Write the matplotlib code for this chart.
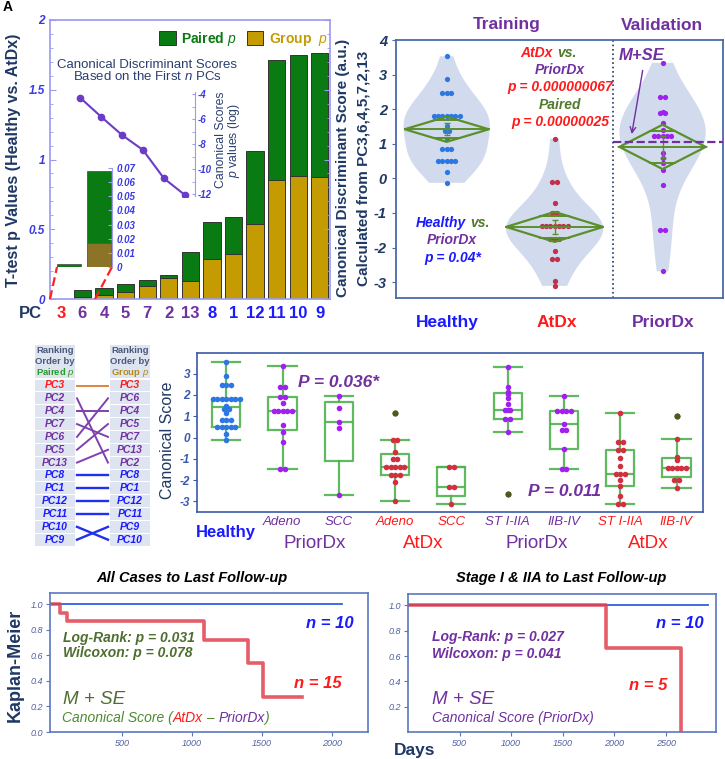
import numpy as np
import matplotlib
matplotlib.use("Agg")
import matplotlib.pyplot as plt
from matplotlib.lines import Line2D
from matplotlib.patches import Rectangle, Polygon
from matplotlib.ticker import MultipleLocator

plt.rcParams["font.family"] = ["Liberation Sans", "DejaVu Sans"]
plt.rcParams["mathtext.fontset"] = "custom"
plt.rcParams["mathtext.it"] = "Liberation Sans:italic"
plt.rcParams["mathtext.rm"] = "Liberation Sans"
plt.rcParams["mathtext.bf"] = "Liberation Sans:bold"
plt.rcParams["axes.unicode_minus"] = False

# ---- panel A : t-test p values per PC (group p + paired p stacked)
pc_labels = ["3", "6", "4", "5", "7", "2", "13", "8", "1", "12", "11", "10", "9"]
group_p = [0.0003, 0.017, 0.03, 0.048, 0.09, 0.15, 0.127, 0.29, 0.32, 0.54, 0.85, 0.88, 0.875]
paired_p = [0.0021, 0.051, 0.047, 0.062, 0.049, 0.02, 0.208, 0.26, 0.27, 0.52, 0.86, 0.87, 0.885]
n_pcs = [2, 3, 4, 5, 6, 7]
log_p_scores = [-4.29, -5.81, -7.28, -8.48, -10.75, -12.08]

# ---- canonical scores
healthy = [3.53, 2.87, 2.48, 2.48, 2.48, 1.81, 1.81, 1.81, 1.81, 1.81, 1.81, 1.81,
           1.5, 1.36, 1.36, 1.15, 0.84, 0.84, 0.84, 0.49, 0.49, 0.49, 0.49, 0.49, 0.18, -0.13]
priordx_adeno = [3.34, 2.35, 2.35, 1.9, 1.9, 1.6, 1.23, 1.23, 1.23, 1.23, 1.23, 0.6, 0.25, -0.2, -1.48, -1.48]
priordx_scc = [1.93, 1.4, 0.72, 0.45, -2.69]
atdx_adeno = [1.15, -0.1, -0.1, -0.7, -1.0, -1.0, -1.38, -1.38, -1.38, -1.38, -1.38,
              -1.74, -1.74, -1.74, -2.1, -2.97]
atdx_scc = [-1.38, -1.38, -2.34, -2.34, -3.11]
priordx_early = [3.3, 2.36, 2.12, 2.06, 1.86, 1.58, 1.31, 1.27, 1.27, 0.87, 0.87, 0.26, -2.64]
priordx_late = [1.93, 1.23, 1.23, 1.23, 1.23, 0.65, 0.37, 0.37, -0.52, -1.46, -1.46]
atdx_early = [1.15, -0.23, -0.23, -0.57, -0.57, -0.96, -1.36, -1.7, -1.7, -1.7, -2.01, -2.27, -2.77, -3.11, -3.11]
atdx_late = [1.03, -0.07, -0.93, -1.04, -1.43, -1.43, -1.43, -1.43, -1.43, -2.01, -2.01, -2.37]
m_se_line = 1.05

rank_paired = ["PC3", "PC2", "PC4", "PC7", "PC6", "PC5", "PC13", "PC8", "PC1", "PC12", "PC11", "PC10", "PC9"]
rank_group = ["PC3", "PC6", "PC4", "PC5", "PC7", "PC13", "PC2", "PC8", "PC1", "PC12", "PC11", "PC9", "PC10"]

# ---- Kaplan-Meier
km_all_t = [0, 60, 107, 1085, 1400, 1505, 1785]
km_all_s = [1.0, 0.933, 0.867, 0.722, 0.542, 0.271, 0.271]
km_all_ref_t = [0, 2070]
km_stage_t = [0, 1918, 2643]
km_stage_s = [1.0, 0.667, 0.0]
km_stage_ref_t = [0, 2905]

NAVY = "#1f3864"
BLUE = "#1a1aff"
RED = "#ff1a1a"
PURPLE = "#7030a0"
OLIVE = "#4e7a2a"
GREEN = "#0a7a12"
GOLD = "#c49b00"
SPINE_A = "#9a9af0"
VIOLIN = "#d2dbee"
DIAMOND = "#5b8f2a"
BOXGREEN = "#4fb34f"
PC_COL = {"3": RED, "6": PURPLE, "4": PURPLE, "5": PURPLE, "7": PURPLE, "2": PURPLE, "13": PURPLE}

W, H = 725, 759
fig = plt.figure(figsize=(7.25, 7.59), dpi=100)


def rect(l, t, r, b):
    return [l / W, 1 - b / H, (r - l) / W, (b - t) / H]


def txt(x, y, s, **kw):
    kw.setdefault("ha", "center")
    kw.setdefault("va", "center")
    return fig.text(x / W, 1 - y / H, s, **kw)


def multicolor(x, y, pieces, **kw):
    renderer = fig.canvas.get_renderer()
    for s, c in pieces:
        t = txt(x, y, s, color=c, ha="left", **kw)
        x += t.get_window_extent(renderer).width


def swarm(vals, center, step):
    vals = np.asarray(vals, float)
    xs = np.zeros(len(vals))
    keys = np.round(vals, 2)
    for k in np.unique(keys):
        idx = np.where(keys == k)[0]
        xs[idx] = center + (np.arange(len(idx)) - (len(idx) - 1) / 2) * step
    return xs


def diamond(ax, pos, vals, w):
    v = np.asarray(vals, float)
    m = v.mean()
    se = v.std(ddof=1) / np.sqrt(len(v))
    ci = 2.06 * se
    ax.add_patch(Polygon([[pos - w, m], [pos, m + ci], [pos + w, m], [pos, m - ci]],
                         closed=True, fill=False, ec=DIAMOND, lw=1.6, zorder=4))
    ax.plot([pos - w, pos + w], [m, m], color=DIAMOND, lw=1.4, zorder=4)
    h = ci / np.sqrt(2)
    ww = w * (1 - 1 / np.sqrt(2))
    for yy in (m - h, m + h):
        ax.plot([pos - ww, pos + ww], [yy, yy], color=DIAMOND, lw=1.4, zorder=4)
    ax.errorbar(pos, m, yerr=se, color=DIAMOND, capsize=2, lw=1, zorder=4)


def box_stats(vals):
    v = np.sort(np.asarray(vals, float))
    q1, med, q3 = np.percentile(v, [25, 50, 75], method="weibull")
    iqr = q3 - q1
    lo = v[v >= q1 - 1.5 * iqr].min()
    hi = v[v <= q3 + 1.5 * iqr].max()
    return dict(med=med, q1=q1, q3=q3, whislo=lo, whishi=hi, fliers=v[(v < lo) | (v > hi)])


def style_ticks(ax, axis, color, size, weight="bold", style="italic"):
    labels = ax.get_yticklabels() if axis == "y" else ax.get_xticklabels()
    for lb in labels:
        lb.set_color(color)
        lb.set_fontsize(size)
        lb.set_fontweight(weight)
        lb.set_fontstyle(style)


# =================== panel A
ax = fig.add_axes(rect(50, 20, 330, 299))
x = np.arange(len(pc_labels))
ax.bar(x, group_p, 0.8, color=GOLD, edgecolor="#333333", lw=0.7, label="Group  $\\it{p}$")
ax.bar(x, paired_p, 0.8, bottom=group_p, color=GREEN, edgecolor="#333333", lw=0.7, label="Paired $\\it{p}$")
ax.set_xlim(-0.5, 12.47)
ax.set_ylim(0, 2)
ax.set_yticks([0, 0.5, 1, 1.5, 2])
ax.set_yticklabels(["0", "0.5", "1", "1.5", "2"])
ax.yaxis.set_minor_locator(MultipleLocator(0.1))
ax.tick_params(axis="y", which="both", direction="in", right=True, color=SPINE_A)
ax.tick_params(axis="y", which="major", length=4)
ax.tick_params(axis="y", which="minor", length=2)
style_ticks(ax, "y", "#3a3ae0", 8.5)
ax.set_xticks(x)
ax.set_xticklabels(pc_labels)
ax.tick_params(axis="x", length=0, pad=5)
for lb, p in zip(ax.get_xticklabels(), pc_labels):
    lb.set_color(PC_COL.get(p, BLUE))
    lb.set_fontsize(12)
    lb.set_fontweight("bold")
for s in ax.spines.values():
    s.set_color(SPINE_A)
    s.set_linewidth(1.2)
h, l = ax.get_legend_handles_labels()
ax.legend(h[::-1], l[::-1], loc="upper left", bbox_to_anchor=(0.37, 0.985), ncol=2, frameon=False,
          handlelength=1.2, handleheight=1.2, columnspacing=0.7, handletextpad=0.4, borderaxespad=0,
          labelcolor=[GREEN, GOLD], prop=dict(size=10, weight="bold"))
txt(30, 313, "PC", color=NAVY, fontsize=12, fontweight="bold")
txt(147, 65, "Canonical Discriminant Scores", color="#2a3f6e", fontsize=9.5)
txt(147, 76, "Based on the First $\\it{n}$ PCs", color="#2a3f6e", fontsize=9.5)
txt(14, 160, "T-test p Values (Healthy vs. AtDx)", color=NAVY, fontsize=11.5, fontweight="bold", rotation=90)
txt(343, 168, "Canonical Discriminant Score (a.u.)", color=NAVY, fontsize=11, fontweight="bold", rotation=90)
txt(363, 168, "Calculated from PC3,6,4,5,7,2,13", color=NAVY, fontsize=11, fontweight="bold", rotation=90)
txt(8, 7, "A", color="black", fontsize=10, fontweight="bold")

# zoom inset for the first two PCs
axi = fig.add_axes(rect(55, 168, 112, 267))
axi.bar([0, 1], group_p[:2], 0.8, color="#8c7426", edgecolor="#555555", lw=0.6)
axi.bar([0, 1], paired_p[:2], 0.8, bottom=group_p[:2], color=GREEN, edgecolor="#555555", lw=0.6)
axi.set_xlim(-0.47, 1.43)
axi.set_ylim(0, 0.07)
axi.set_xticks([])
axi.yaxis.tick_right()
axi.set_yticks(np.arange(0, 0.071, 0.01))
axi.set_yticklabels(["0", "0.01", "0.02", "0.03", "0.04", "0.05", "0.06", "0.07"])
axi.tick_params(axis="y", direction="in", length=3, color=SPINE_A, pad=3)
style_ticks(axi, "y", "#3a3ae0", 7)
for k in ["left", "top", "bottom"]:
    axi.spines[k].set_visible(False)
axi.spines["right"].set_color(SPINE_A)
fig.add_artist(Line2D([50 / W, 57 / W], [1 - 299 / H, 1 - 267 / H], color="#ff2020", ls=(0, (4, 2)), lw=1.6))
fig.add_artist(Line2D([95 / W, 112 / W], [1 - 299 / H, 1 - 267 / H], color="#ff2020", ls=(0, (4, 2)), lw=1.6))

# canonical score p-values inset
axl = fig.add_axes(rect(75, 91.5, 195, 196.5))
axl.patch.set_visible(False)
axl.plot(n_pcs, log_p_scores, "-o", color="#6a3cc8", ms=4.5, lw=1.5)
axl.set_xlim(1.76, 7.48)
axl.set_ylim(-12.2, -3.8)
axl.set_xticks([])
axl.yaxis.tick_right()
axl.set_yticks([-12, -10, -8, -6, -4])
axl.yaxis.set_minor_locator(MultipleLocator(1))
axl.tick_params(axis="y", which="both", direction="in", color=SPINE_A, length=2.5, pad=2)
style_ticks(axl, "y", "#3a3ae0", 7)
for k in ["left", "top", "bottom"]:
    axl.spines[k].set_visible(False)
axl.spines["right"].set_color(SPINE_A)
txt(220.5, 140, "Canonical Scores", color="#2a3f6e", fontsize=8.8, rotation=90)
txt(234, 140, "$\\it{p}$ values (log)", color="#2a3f6e", fontsize=8.8, rotation=90)

# =================== panel B : violins
atdx_all = atdx_adeno + atdx_scc
priordx_all = priordx_adeno + priordx_scc
axv = fig.add_axes(rect(396, 40, 723, 298))
vgroups = [healthy, atdx_all, priordx_all]
vp = axv.violinplot(vgroups, positions=[0, 1, 2], widths=[0.8, 0.9, 0.8], showextrema=False, bw_method=0.6)
for body in vp["bodies"]:
    body.set_facecolor(VIOLIN)
    body.set_edgecolor("none")
    body.set_alpha(1)
for i, (vals, col, w) in enumerate(zip(vgroups, ["#2b78e4", "#c0304a", "#a020f0"], [0.39, 0.45, 0.4])):
    axv.plot(swarm(vals, i, 0.04), vals, "o", color=col, ms=3.8, mec="none", zorder=3)
    diamond(axv, i, vals, w)
axv.set_xlim(-0.47, 2.56)
axv.set_ylim(-3.46, 4)
axv.axvline(1.54, color=NAVY, ls=":", lw=1.2)
axv.plot([1.54, 2.56], [m_se_line, m_se_line], "--", color=PURPLE, lw=1.6, zorder=5)
axv.annotate("", xy=(1.71, 1.2), xytext=(1.82, 3.2),
             arrowprops=dict(arrowstyle="->", color=PURPLE, lw=1))
axv.set_xticks([])
axv.set_yticks(range(-3, 5))
axv.tick_params(axis="y", length=3, color="#4a6aa8")
style_ticks(axv, "y", NAVY, 10.5)
for s in axv.spines.values():
    s.set_color("#4a6aa8")
    s.set_linewidth(1.3)
txt(642, 56, "M+SE", color=PURPLE, fontsize=12, fontweight="bold", style="italic")
txt(507, 25, "Training", color=PURPLE, fontsize=12.5, fontweight="bold")
txt(662, 25, "Validation", color=PURPLE, fontsize=12.5, fontweight="bold")
txt(447, 322, "Healthy", color=BLUE, fontsize=12.5, fontweight="bold")
txt(557, 322, "AtDx", color=RED, fontsize=12.5, fontweight="bold")
txt(663, 322, "PriorDx", color=PURPLE, fontsize=12.5, fontweight="bold")
bi = dict(fontsize=10, fontweight="bold", style="italic")
txt(553, 53, "AtDx", color=RED, ha="right", **bi)
txt(557, 53, "vs.", color=OLIVE, ha="left", **bi)
txt(560, 70, "PriorDx", color=PURPLE, **bi)
txt(560, 87, "p = 0.000000067", color=RED, **bi)
txt(560, 105, "Paired", color=OLIVE, **bi)
txt(560, 122, "p = 0.00000025", color=RED, **bi)
txt(466, 223, "Healthy", color=BLUE, ha="right", **bi)
txt(470, 223, "vs.", color=OLIVE, ha="left", **bi)
txt(452, 240, "PriorDx", color=PURPLE, **bi)
txt(453, 258, "p = 0.04*", color=BLUE, **bi)

# =================== panel C : ranking table
axr = fig.add_axes(rect(30, 340, 160, 548))
axr.set_xlim(30, 160)
axr.set_ylim(548, 340)
axr.axis("off")


def pc_color(name):
    return PC_COL.get(name[2:], BLUE)


for cx in (35, 110):
    axr.add_patch(Rectangle((cx, 345), 40, 33, fc="#dfe5f0", ec="none"))
for cx, lab, c in ((55, "Paired $\\it{p}$", "#2a9a2a"), (130, "Group $\\it{p}$", "#b08a20")):
    axr.text(cx, 351, "Ranking", ha="center", va="center", color="#4a5a7a", fontsize=6.8, fontweight="bold")
    axr.text(cx, 362, "Order by", ha="center", va="center", color="#4a5a7a", fontsize=6.8, fontweight="bold")
    axr.text(cx, 373, lab, ha="center", va="center", color=c, fontsize=6.8, fontweight="bold")
row_y = 385.5 + 12.85 * np.arange(len(rank_paired))
for i, name in enumerate(rank_paired):
    for cx, nm in ((35, name), (110, rank_group[i])):
        axr.add_patch(Rectangle((cx, row_y[i] - 5.9), 40, 11.8, fc="#dfe5f0", ec="none"))
        axr.text(cx + 20, row_y[i], nm, ha="center", va="center", color=pc_color(nm),
                 fontsize=7.5, fontweight="bold", style="italic")
    j = rank_group.index(name)
    c = pc_color(name)
    lc = "#e0843c" if c == RED else ("#8040b0" if c == PURPLE else "#2030f0")
    axr.plot([77, 108], [row_y[i], row_y[j]], color=lc, lw=1.4 if c != BLUE else 1.7)

# =================== panel C : box plots
box_groups = [healthy, priordx_adeno, priordx_scc, atdx_adeno, atdx_scc,
              priordx_early, priordx_late, atdx_early, atdx_late]
box_dot_cols = ["#2b78e4", "#a020f0", "#a020f0", "#d03040", "#d03040",
                "#a020f0", "#a020f0", "#d03040", "#d03040"]
axb = fig.add_axes(rect(197, 353, 703, 512))
for i, (vals, col) in enumerate(zip(box_groups, box_dot_cols)):
    axb.plot(swarm(vals, i, 0.08), vals, "o", color=col, ms=4, mec="none", zorder=3)
gp = dict(color=BOXGREEN, lw=1.6, alpha=0.9)
axb.bxp([box_stats(v) for v in box_groups], positions=range(len(box_groups)), widths=0.5,
        capwidths=0.5, boxprops=gp, whiskerprops=gp, capprops=gp, medianprops=gp,
        flierprops=dict(marker="o", markerfacecolor="#4b5b1c", markeredgecolor="none", markersize=4.5, zorder=5),
        manage_ticks=False)
axb.set_xlim(-0.52, 8.47)
axb.set_ylim(-3.5, 3.97)
axb.set_xticks([])
axb.set_yticks(range(-3, 4))
axb.tick_params(axis="y", length=3, color="#3a5aa8", pad=2)
style_ticks(axb, "y", "#3a5ab0", 8.5)
for s in axb.spines.values():
    s.set_color("#3a5aa8")
    s.set_linewidth(1.2)
txt(168, 440, "Canonical Score", color=NAVY, fontsize=11.5, rotation=90)
txt(298, 382, "P = 0.036*", color=PURPLE, fontsize=12.5, fontweight="bold", style="italic", ha="left")
txt(528, 492, "P = 0.011", color=PURPLE, fontsize=12.5, fontweight="bold", style="italic", ha="left")
sub_labels = ["Adeno", "SCC", "Adeno", "SCC", "ST I-IIA", "IIB-IV", "ST I-IIA", "IIB-IV"]
sub_cols = [PURPLE, PURPLE, RED, RED, PURPLE, PURPLE, RED, RED]
for k, (lab, c) in enumerate(zip(sub_labels, sub_cols)):
    txt(226 + 56.3 * (k + 1), 522, lab, color=c, fontsize=9.5, style="italic")
txt(226, 532, "Healthy", color=BLUE, fontsize=12, fontweight="bold")
for xx, lab, c in ((315, "PriorDx", PURPLE), (423, "AtDx", RED), (537, "PriorDx", PURPLE), (648, "AtDx", RED)):
    txt(xx, 543, lab, color=c, fontsize=13.5)

# =================== panel D : Kaplan-Meier
km_tick_col = "#5060a0"


def km_axes(r, xmax, xticks, yticks):
    a = fig.add_axes(r)
    a.set_xlim(-14, xmax)
    a.set_ylim(0, 1.09)
    a.set_xticks(xticks)
    a.set_yticks(yticks)
    a.set_yticklabels(["%.1f" % v for v in yticks])
    a.tick_params(length=3, color="#5a78c0", pad=2)
    style_ticks(a, "x", km_tick_col, 6.5, weight="normal")
    style_ticks(a, "y", km_tick_col, 6.5, weight="normal")
    for s in a.spines.values():
        s.set_color("#5a78c0")
        s.set_linewidth(1.2)
    return a


ak1 = km_axes(rect(50, 593, 368, 732), 2257, [500, 1000, 1500, 2000], [0, 0.2, 0.4, 0.6, 0.8, 1.0])
ak1.plot(km_all_ref_t, [1, 1], color="#3060e0", lw=1.3)
ak1.step(km_all_t, km_all_s, where="post", color="#e0404e", lw=2.6, alpha=0.85)
ak2 = km_axes(rect(408, 594, 716, 732), 2985, [500, 1000, 1500, 2000, 2500], [0.2, 0.4, 0.6, 0.8, 1.0])
ak2.set_xlim(-1, 2985)
ak2.plot(km_stage_ref_t, [1, 1], color="#3060e0", lw=1.3)
ak2.step(km_stage_t, km_stage_s, where="post", color="#e0404e", lw=2.6, alpha=0.85)

txt(192, 578, "All Cases to Last Follow-up", color="black", fontsize=10.5, fontweight="bold", style="italic")
txt(561, 578, "Stage I & IIA to Last Follow-up", color="black", fontsize=10.5, fontweight="bold", style="italic")
txt(15, 665, "Kaplan-Meier", color=NAVY, fontsize=13, fontweight="bold", rotation=90)
txt(415, 751, "Days", color=NAVY, fontsize=12.5, fontweight="bold")

ki = dict(fontsize=10, fontweight="bold", style="italic", ha="left")
txt(63, 638, "Log-Rank: p = 0.031", color="#4e6e2e", **ki)
txt(63, 653, "Wilcoxon: p = 0.078", color="#4e6e2e", **ki)
txt(63, 700, "M + SE", color="#4e6e2e", fontsize=13.5, style="italic", ha="left")
multicolor(62, 718, [("Canonical Score (", "#4e8a2e"), ("AtDx", RED), (" \u2013 ", "#4e8a2e"),
                     ("PriorDx", PURPLE), (")", "#4e8a2e")], fontsize=10, style="italic")
txt(432, 637, "Log-Rank: p = 0.027", color=PURPLE, **ki)
txt(432, 654, "Wilcoxon: p = 0.041", color=PURPLE, **ki)
txt(432, 700, "M + SE", color=PURPLE, fontsize=13.5, style="italic", ha="left")
txt(432, 718, "Canonical Score (PriorDx)", color=PURPLE, fontsize=10, style="italic", ha="left")
nb = dict(fontsize=12, fontweight="bold", style="italic")
txt(330, 623, "n = 10", color=BLUE, **nb)
txt(318, 683, "n = 15", color=RED, **nb)
txt(680, 623, "n = 10", color=BLUE, **nb)
txt(648, 685, "n = 5", color=RED, **nb)

fig.savefig("out.png", dpi=100)
